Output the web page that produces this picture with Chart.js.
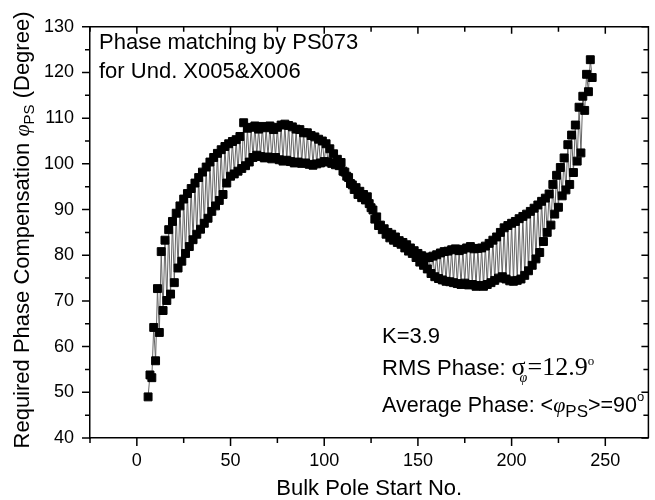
<!DOCTYPE html>
<html lang="en">
<head>
  <meta charset="UTF-8">
  <title>Phase matching by PS073</title>
  <script src="https://cdn.jsdelivr.net/npm/chart.js"></script>
  <style>
    body { margin: 0; background: #fff; }
    canvas { display: block; }
  </style>
</head>
<body>
  <canvas id="phaseChart" width="655" height="500"></canvas>

  <script>
    // pole start numbers 6..243 (x categories)
    const poleNumbers = Array.from({ length: 238 }, (_, i) => 6 + i);

    // required phase (deg) for even pole starts 6, 8, ..., 242
    const evenPolePhase = [
      49.0, 53.2, 56.9, 63.1, 67.9, 70.1, 71.5, 74.0, 77.2, 78.7,
      80.4, 81.9, 83.4, 84.6, 85.7, 87.0, 88.1, 89.6, 90.8, 92.0,
      93.3, 95.8, 97.3, 97.8, 98.4, 99.0, 99.6, 100.4, 101.4, 101.9,
      101.6, 101.3, 101.5, 101.1, 101.4, 100.9, 100.6, 100.8, 100.5, 100.2,
      100.4, 100.1, 100.2, 99.9, 99.7, 100.0, 100.2, 100.5, 100.4, 100.1,
      99.8, 99.6, 98.4, 97.3, 95.7, 94.4, 93.3, 92.6, 92.1, 91.3,
      89.9, 88.4, 86.6, 85.8, 85.0, 84.6, 84.0, 83.2, 82.8, 82.3,
      81.6, 81.0, 80.4, 79.9, 79.6, 79.5, 79.8, 80.1, 80.5, 80.8,
      80.9, 81.2, 81.4, 81.0, 81.3, 81.6, 81.9, 81.4, 81.5, 81.6,
      82.0, 82.6, 83.3, 84.0, 85.0, 86.0, 86.5, 87.0, 87.4, 88.0,
      88.5, 89.0, 89.6, 90.3, 91.0, 91.8, 92.5, 93.4, 95.5, 97.5,
      99.2, 101.3, 104.2, 106.3, 108.5, 112.4, 114.8, 119.6, 122.8
    ];

    // required phase (deg) for odd pole starts 7, 9, ..., 243
    const oddPolePhase = [
      53.8, 64.2, 72.7, 80.8, 83.3, 85.6, 87.4, 89.2, 90.8, 92.3,
      93.5, 94.6, 95.8, 97.0, 98.2, 99.3, 100.4, 101.4, 102.3, 103.1,
      103.8, 104.4, 104.9, 105.3, 106.0, 109.0, 107.8, 108.0, 108.3, 107.6,
      108.2, 107.9, 108.3, 107.5, 108.0, 108.5, 108.7, 108.4, 108.1, 107.6,
      107.5, 106.8, 106.8, 106.2, 105.9, 105.4, 105.0, 104.4, 103.3, 102.2,
      101.0, 100.3, 98.2, 97.0, 95.4, 94.8, 94.0, 93.3, 92.8, 90.4,
      87.9, 86.5, 85.6, 84.6, 83.8, 83.3, 82.8, 82.4, 81.6, 80.9,
      80.4, 79.5, 78.5, 77.8, 77.0, 76.0, 75.3, 74.9, 74.6, 74.3,
      74.2, 74.0, 73.8, 73.6, 73.9, 73.5, 73.6, 73.2, 73.4, 73.2,
      73.6, 74.0, 74.5, 75.0, 75.3, 74.8, 74.4, 74.3, 74.5, 74.8,
      75.6, 76.6, 77.8, 79.2, 80.6, 83.0, 85.0, 86.6, 89.0, 90.5,
      93.0, 94.3, 95.5, 98.1, 100.6, 102.4, 111.7, 115.8, 118.9
    ];

    const xTickLabels = [0, 50, 100, 150, 200, 250];
    const yTickLabels = [40, 50, 60, 70, 80, 90, 100, 110, 120, 130];

    const phasePoints = poleNumbers.map(p => ({
      x: p,
      y: p % 2 === 0 ? evenPolePhase[(p - 6) / 2] : oddPolePhase[(p - 7) / 2]
    }));

    const SANS = "'Liberation Sans', Arial, sans-serif";
    const SERIF = "'Liberation Serif', 'Times New Roman', serif";
    Chart.defaults.font.family = SANS;
    Chart.defaults.color = '#000';

    // draw a row of text pieces, each with its own font and vertical shift
    function drawRuns(ctx, x, y, runs) {
      runs.forEach(r => {
        ctx.font = r.font;
        const dx = r.dx || 0;
        ctx.fillText(r.t, x + dx, y + (r.dy || 0));
        x += (r.adv !== undefined) ? r.adv : ctx.measureText(r.t).width + dx;
      });
      return x;
    }
    function runsWidth(ctx, runs) {
      let w = 0;
      runs.forEach(r => {
        ctx.font = r.font;
        w += (r.adv !== undefined) ? r.adv : ctx.measureText(r.t).width + (r.dx || 0);
      });
      return w;
    }

    const framePlugin = {
      id: 'frame',
      afterDraw(chart) {
        const { ctx, chartArea: a, scales: { x, y } } = chart;
        ctx.save();
        ctx.strokeStyle = '#000';
        ctx.lineWidth = 1.5;

        // top and right edges
        ctx.beginPath();
        ctx.moveTo(a.left, a.top); ctx.lineTo(a.right, a.top); ctx.lineTo(a.right, a.bottom);
        ctx.stroke();

        // x ticks: out at bottom, in at top
        ctx.beginPath();
        for (let v = -25; v <= 250; v += 25) {
          const px = x.getPixelForValue(v);
          const major = v % 50 === 0;
          ctx.moveTo(px, a.bottom); ctx.lineTo(px, a.bottom + (major ? 8 : 5));
          ctx.moveTo(px, a.top); ctx.lineTo(px, a.top + (major ? 7 : 5));
        }
        // y ticks: out at left, in at right
        for (let v = 40; v <= 130; v += 5) {
          const py = y.getPixelForValue(v);
          const major = v % 10 === 0;
          ctx.moveTo(a.left, py); ctx.lineTo(a.left - (major ? 8 : 5), py);
          ctx.moveTo(a.right, py); ctx.lineTo(a.right - (major ? 7 : 5), py);
        }
        ctx.stroke();

        ctx.fillStyle = '#000';
        ctx.textBaseline = 'alphabetic';
        ctx.textAlign = 'left';

        // axis titles
        ctx.font = '22px ' + SANS;
        const xt = 'Bulk Pole Start No.';
        ctx.fillText(xt, (a.left + a.right) / 2 - ctx.measureText(xt).width / 2, 495);

        const yRuns = [
          { t: 'Required Phase Compensation ', font: '22px ' + SANS },
          { t: 'φ', font: 'italic 22px ' + SERIF },
          { t: 'PS', font: '15px ' + SANS, dy: 5 },
          { t: ' (Degree)', font: '22px ' + SANS }
        ];
        ctx.save();
        ctx.translate(29, 230);
        ctx.rotate(-Math.PI / 2);
        drawRuns(ctx, -runsWidth(ctx, yRuns) / 2, 0, yRuns);
        ctx.restore();

        // annotations
        ctx.font = '22px ' + SANS;
        ctx.fillText('Phase matching by PS073', 99, 49);
        ctx.fillText('for Und. X005&X006', 99, 78);
        ctx.fillText('K=3.9', 382, 343);

        drawRuns(ctx, 382, 375, [
          { t: 'RMS Phase: ', font: '22px ' + SANS },
          { t: 'σ', font: '26px ' + SERIF },
          { t: 'φ', font: 'italic 14px ' + SERIF, dx: -6, dy: 7, adv: 2 },
          { t: '=12.9', font: '26px ' + SERIF },
          { t: 'o', font: '13px ' + SERIF, dy: -10 }
        ]);

        drawRuns(ctx, 382, 412, [
          { t: 'Average Phase: <', font: '21.5px ' + SANS },
          { t: 'φ', font: 'italic 22px ' + SERIF },
          { t: 'PS', font: '17px ' + SANS, dy: 5 },
          { t: '>=90', font: '21.5px ' + SANS },
          { t: 'o', font: '13px ' + SANS, dy: -11 }
        ]);

        ctx.restore();
      }
    };

    new Chart(document.getElementById('phaseChart'), {
      type: 'line',
      data: {
        datasets: [{
          data: phasePoints,
          borderColor: '#666',
          borderWidth: 1,
          tension: 0,
          fill: false,
          pointStyle: 'rect',
          pointRadius: 5.6,
          pointBorderWidth: 1,
          pointBackgroundColor: '#000',
          pointBorderColor: '#000'
        }]
      },
      options: {
        responsive: false,
        animation: false,
        events: [],
        layout: { padding: { top: 20, right: 3, left: 0, bottom: 0 } },
        plugins: { legend: { display: false }, tooltip: { enabled: false } },
        scales: {
          x: {
            type: 'linear',
            min: -25,
            max: 273,
            afterBuildTicks: s => { s.ticks = xTickLabels.map(v => ({ value: v })); },
            afterFit: s => { s.height = 62; },
            grid: { display: false, drawTicks: false },
            border: { display: true, color: '#000', width: 1.5 },
            ticks: { padding: 12, font: { size: 18 }, color: '#000', autoSkip: false, maxRotation: 0 }
          },
          y: {
            type: 'linear',
            min: 40,
            max: 130,
            afterBuildTicks: s => { s.ticks = yTickLabels.map(v => ({ value: v })); },
            afterFit: s => { s.width = 90; },
            grid: { display: false, drawTicks: false },
            border: { display: true, color: '#000', width: 1.5 },
            ticks: { padding: 16, font: { size: 18 }, color: '#000' }
          }
        }
      },
      plugins: [framePlugin]
    });
  </script>
</body>
</html>
